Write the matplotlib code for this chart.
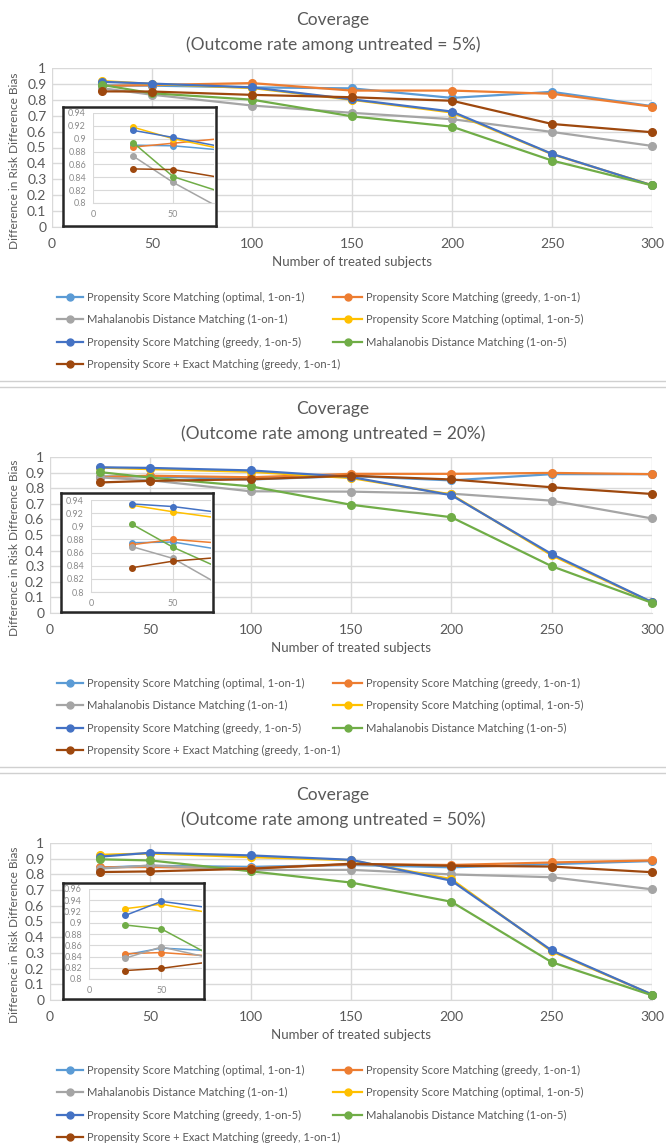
import matplotlib
matplotlib.use("Agg")
import matplotlib.pyplot as plt
from matplotlib.lines import Line2D

plt.rcParams['font.family'] = ['Lato', 'DejaVu Sans']

# ---------------- data ----------------
n_treated = [25, 50, 100, 150, 200, 250, 300]

series_names = [
    "Propensity Score Matching (optimal, 1-on-1)",
    "Propensity Score Matching (greedy, 1-on-1)",
    "Mahalanobis Distance Matching (1-on-1)",
    "Propensity Score Matching (optimal, 1-on-5)",
    "Propensity Score Matching (greedy, 1-on-5)",
    "Mahalanobis Distance Matching (1-on-5)",
    "Propensity Score + Exact Matching (greedy, 1-on-1)",
]
series_colors = ["#5B9BD5", "#ED7D31", "#A5A5A5", "#FFC000", "#4472C4", "#70AD47", "#9E480E"]

# Outcome rate 5%
p05_psm_opt_11 = [0.890, 0.889, 0.878, 0.872, 0.812, 0.850, 0.760]
p05_psm_gr_11  = [0.887, 0.893, 0.905, 0.858, 0.858, 0.838, 0.757]
p05_maha_11    = [0.873, 0.832, 0.764, 0.718, 0.678, 0.598, 0.510]
p05_psm_opt_15 = [0.918, 0.900, 0.874, 0.800, 0.720, 0.458, 0.263]
p05_psm_gr_15  = [0.913, 0.902, 0.878, 0.803, 0.726, 0.460, 0.262]
p05_maha_15    = [0.894, 0.841, 0.801, 0.696, 0.631, 0.418, 0.262]
p05_exact      = [0.853, 0.852, 0.831, 0.816, 0.794, 0.648, 0.596]

# Outcome rate 20%
p20_psm_opt_11 = [0.875, 0.876, 0.856, 0.878, 0.850, 0.890, 0.890]
p20_psm_gr_11  = [0.872, 0.880, 0.870, 0.892, 0.892, 0.898, 0.890]
p20_maha_11    = [0.869, 0.851, 0.780, 0.778, 0.765, 0.720, 0.606]
p20_psm_opt_15 = [0.932, 0.922, 0.905, 0.865, 0.760, 0.370, 0.068]
p20_psm_gr_15  = [0.934, 0.930, 0.914, 0.872, 0.755, 0.378, 0.070]
p20_maha_15    = [0.903, 0.868, 0.812, 0.694, 0.614, 0.300, 0.065]
p20_exact      = [0.837, 0.847, 0.857, 0.880, 0.856, 0.806, 0.763]

# Outcome rate 50%
p50_psm_opt_11 = [0.843, 0.855, 0.848, 0.860, 0.845, 0.865, 0.885]
p50_psm_gr_11  = [0.845, 0.847, 0.838, 0.865, 0.860, 0.876, 0.889]
p50_maha_11    = [0.837, 0.857, 0.828, 0.829, 0.800, 0.782, 0.705]
p50_psm_opt_15 = [0.925, 0.933, 0.910, 0.890, 0.770, 0.310, 0.035]
p50_psm_gr_15  = [0.913, 0.938, 0.921, 0.893, 0.760, 0.316, 0.035]
p50_maha_15    = [0.896, 0.889, 0.820, 0.748, 0.626, 0.241, 0.030]
p50_exact      = [0.815, 0.819, 0.836, 0.868, 0.855, 0.850, 0.814]

panel_titles = ["Coverage\n(Outcome rate among untreated = 5%)",
                "Coverage\n(Outcome rate among untreated = 20%)",
                "Coverage\n(Outcome rate among untreated = 50%)"]
panel_data = [
    [p05_psm_opt_11, p05_psm_gr_11, p05_maha_11, p05_psm_opt_15, p05_psm_gr_15, p05_maha_15, p05_exact],
    [p20_psm_opt_11, p20_psm_gr_11, p20_maha_11, p20_psm_opt_15, p20_psm_gr_15, p20_maha_15, p20_exact],
    [p50_psm_opt_11, p50_psm_gr_11, p50_maha_11, p50_psm_opt_15, p50_psm_gr_15, p50_maha_15, p50_exact],
]
main_yticks = [0, 0.1, 0.2, 0.3, 0.4, 0.5, 0.6, 0.7, 0.8, 0.9, 1]
main_yticklabels = ["0", "0.1", "0.2", "0.3", "0.4", "0.5", "0.6", "0.7", "0.8", "0.9", "1"]
main_xticks = [0, 50, 100, 150, 200, 250, 300]
inset_yticks = [
    [0.8, 0.82, 0.84, 0.86, 0.88, 0.9, 0.92, 0.94],
    [0.8, 0.82, 0.84, 0.86, 0.88, 0.9, 0.92, 0.94],
    [0.8, 0.82, 0.84, 0.86, 0.88, 0.9, 0.92, 0.94, 0.96],
]
inset_xticks = [0, 50]
x_label = "Number of treated subjects"
y_label = "Difference in Risk Difference Bias"

# ---------------- layout (pixels) ----------------
W, H = 666, 1147
fig = plt.figure(figsize=(W / 100, H / 100), dpi=100)
fig.patch.set_facecolor("white")

def fbox(x0, y0, x1, y1):
    return [x0 / W, 1 - y1 / H, (x1 - x0) / W, (y1 - y0) / H]

TXT = "#595959"
GRID = "#D9D9D9"

main_boxes = [(52, 68, 652, 227), (50, 457, 652, 613), (50, 843, 652, 1000)]
inset_frames = [(63, 107, 216, 226), (61, 493, 213, 612), (63, 883, 204, 999)]
inset_axes = [(93, 113, 214, 203, 75.5), (91, 500, 211, 592, 73), (89, 889, 202, 979, 78)]
inset_ytop = [0.94, 0.94, 0.96]

for p in range(3):
    l, t, r, b = main_boxes[p]
    ax = fig.add_axes(fbox(l, t, r, b))
    ax.set_xlim(0, 300)
    ax.set_ylim(0, 1)
    ax.set_xticks(main_xticks)
    ax.set_xticklabels([str(v) for v in main_xticks])
    ax.set_yticks(main_yticks)
    ax.set_yticklabels(main_yticklabels)
    ax.grid(True, color=GRID, linewidth=1.0)
    ax.set_axisbelow(True)
    for s in ax.spines.values():
        s.set_visible(False)
    ax.spines['bottom'].set_visible(True)
    ax.spines['bottom'].set_color(GRID)
    ax.tick_params(length=0, labelsize=10, labelcolor=TXT)
    ax.tick_params(axis='x', pad=8)
    ax.tick_params(axis='y', pad=4)
    for k in range(7):
        ax.plot(n_treated, panel_data[p][k], color=series_colors[k], lw=1.6,
                marker='o', ms=5.5, zorder=3 + k, clip_on=False)

    fig.text(0.5, 1 - (t - 48) / H, "Coverage", ha='center', va='center', fontsize=12.5, color=TXT)
    fig.text(0.5, 1 - (t - 23) / H, panel_titles[p].split("\n")[1], ha='center', va='center',
             fontsize=12.5, color=TXT)
    fig.text((l + r) / 2 / W, 1 - (b + 35) / H, x_label, ha='center', va='center', fontsize=9.5, color=TXT)
    fig.text(15 / W, 1 - ((t + b) / 2 + 13) / H, y_label, ha='center', va='center', rotation=90,
             fontsize=8.6, color=TXT)

    fx0, fy0, fx1, fy1 = inset_frames[p]
    fr = fig.add_axes(fbox(fx0, fy0, fx1, fy1))
    fr.set_xticks([]); fr.set_yticks([])
    fr.set_facecolor("white")
    for s in fr.spines.values():
        s.set_color("#262626"); s.set_linewidth(1.8)

    il, it, ir, ib, xmax = inset_axes[p]
    ia = fig.add_axes(fbox(il, it, ir, ib))
    ia.patch.set_alpha(0)
    ia.set_xlim(0, xmax)
    ia.set_ylim(0.8, inset_ytop[p])
    ia.set_yticks(inset_yticks[p])
    ia.set_yticklabels([("%g" % v) for v in inset_yticks[p]])
    ia.set_xticks(inset_xticks)
    ia.grid(True, color=GRID, linewidth=0.8)
    ia.set_axisbelow(True)
    for s in ia.spines.values():
        s.set_visible(False)
    ia.spines['bottom'].set_visible(True)
    ia.spines['bottom'].set_color(GRID)
    ia.tick_params(length=0, labelsize=6.5, labelcolor="#8C8C8C", pad=5)
    for k in range(7):
        ia.plot(n_treated, panel_data[p][k], color=series_colors[k], lw=1.1,
                marker='o', ms=4, zorder=3 + k)

    rows_y = [b + 70, b + 92, b + 115, b + 137]
    col_x = [(57, 83, 87), (333, 362, 366)]
    for k in range(7):
        row, col = k // 2, k % 2
        x0, x1, xt = col_x[col]
        yy = 1 - rows_y[row] / H
        fig.add_artist(Line2D([x0 / W, x1 / W], [yy, yy], color=series_colors[k], lw=1.6,
                              transform=fig.transFigure))
        fig.add_artist(Line2D([(x0 + x1) / 2 / W], [yy], color=series_colors[k], marker='o', ms=5,
                              transform=fig.transFigure))
        fig.text(xt / W, yy, series_names[k], ha='left', va='center', fontsize=8, color=TXT)

for ysep in [381, 387, 767, 773]:
    fig.add_artist(Line2D([0, 1], [1 - ysep / H] * 2, color="#D0D0D0", lw=1.0,
                          transform=fig.transFigure))

fig.savefig("out.png", dpi=100, facecolor="white")
